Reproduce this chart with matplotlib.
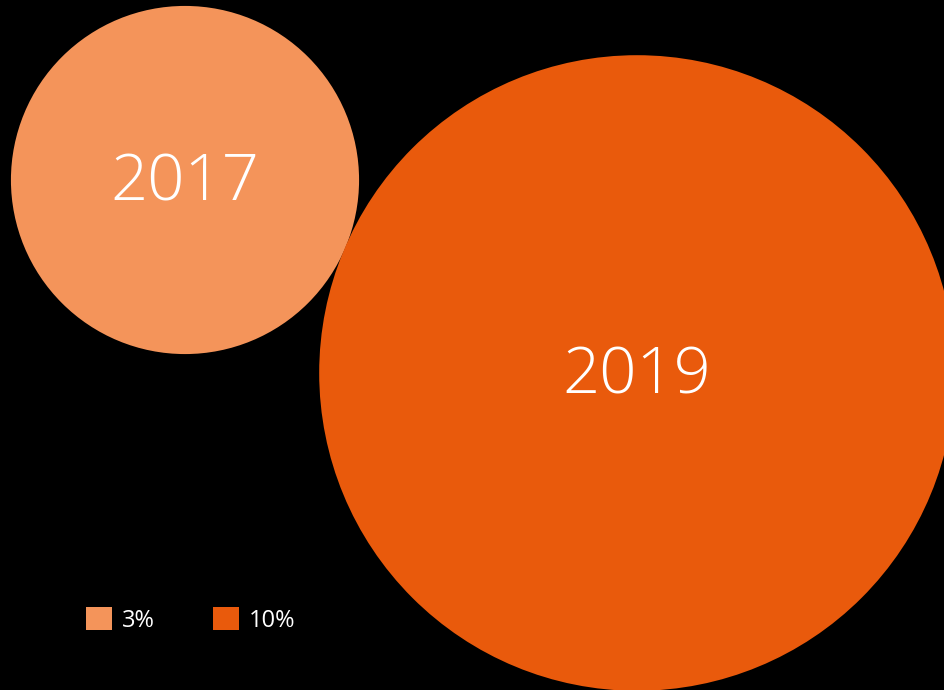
import matplotlib
matplotlib.use('Agg')
import matplotlib.pyplot as plt
import numpy as np
from matplotlib.patches import Circle, Patch

years = ['2017', '2019']
shares = [3, 10]
labels = ['3%', '10%']
colors = ['#F4945A', '#E95A0C']

# bubble centres in pixel coords (layout only)
centres = [(185, 180), (637, 373)]
scale = 100.5  # px radius per sqrt(share)

fig = plt.figure(figsize=(9.44, 6.9), dpi=100)
fig.patch.set_facecolor('black')
ax = fig.add_axes([0, 0, 1, 1])
ax.set_facecolor('black')
ax.set_xlim(0, 944)
ax.set_ylim(690, 0)
ax.set_aspect('equal')
ax.axis('off')

for (cx, cy), share, year, col in zip(centres, shares, years, colors):
    r = scale * np.sqrt(share)
    ax.text(cx, cy + 4, year, color='white', fontsize=47, fontweight=300,
            family=['Open Sans', 'DejaVu Sans'], ha='center', va='center', zorder=3)
    ax.add_patch(Circle((cx, cy), r, facecolor=col, edgecolor='none'))

handles = [Patch(facecolor=c, edgecolor='none', label=l) for c, l in zip(colors, labels)]
leg = ax.legend(handles=handles, loc='center left', bbox_to_anchor=(65 / 944, 1 - 620 / 690),
                ncol=2, frameon=False, handlelength=1.08, handleheight=1.08,
                handletextpad=0.42, columnspacing=2.48, labelcolor='white',
                prop={'family': ['Open Sans', 'DejaVu Sans'], 'size': 17})

fig.savefig('out.png', dpi=100, facecolor='black')
